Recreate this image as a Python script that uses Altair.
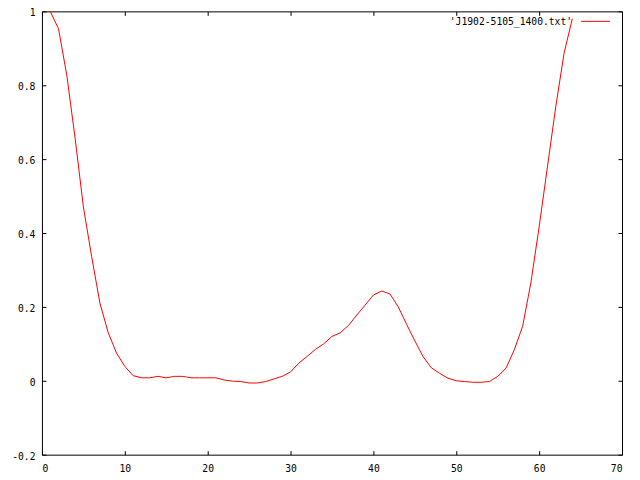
import altair as alt
import pandas as pd

series_name = "'J1902-5105_1400.txt'"
xs = list(range(1, 65))
ys = [1.0, 0.953, 0.827, 0.657, 0.471, 0.336, 0.21, 0.13, 0.075, 0.039,
      0.014, 0.008, 0.008, 0.012, 0.008, 0.012, 0.012, 0.008, 0.008, 0.008,
      0.008, 0.002, -0.001, -0.002, -0.006, -0.006, -0.002, 0.005, 0.012, 0.024,
      0.048, 0.066, 0.085, 0.1, 0.12, 0.13, 0.15, 0.178, 0.205, 0.232,
      0.243, 0.235, 0.2, 0.153, 0.108, 0.065, 0.035, 0.02, 0.007, 0.0,
      -0.002, -0.004, -0.004, -0.002, 0.012, 0.034, 0.084, 0.147, 0.265, 0.417,
      0.579, 0.741, 0.886, 0.98]
x_ticks = [0, 10, 20, 30, 40, 50, 60, 70]
y_ticks = [-0.2, 0, 0.2, 0.4, 0.6, 0.8, 1]

W, H = 581, 444
FONT = "DejaVu Sans Mono"
FS = 9.7

df = pd.DataFrame({"x": xs, "y": ys})
xscale = alt.Scale(domain=[0, 70], nice=False, zero=False)
yscale = alt.Scale(domain=[-0.2, 1], nice=False, zero=False)

def ax(orient, **kw):
    return alt.Axis(orient=orient, title=None, grid=False, **kw)

label_expr = "replace(datum.label, '\u2212', '-')"

main = alt.Chart(df).mark_line(color="#ff0000", strokeWidth=1).encode(
    x=alt.X("x:Q", scale=xscale,
            axis=ax("bottom", values=x_ticks, tickSize=0, labelPadding=9, domain=False,
                    labelFont=FONT, labelFontSize=FS, labelColor="black", format="d")),
    y=alt.Y("y:Q", scale=yscale,
            axis=ax("left", values=y_ticks, tickSize=0, labelPadding=7, domain=False,
                    labelFont=FONT, labelFontSize=FS, labelColor="black", format="~g",
                    labelOffset=1.5, labelExpr=label_expr)),
)

ticks_a = alt.Chart(df).mark_line(strokeOpacity=0).encode(
    x=alt.X("x:Q", scale=xscale,
            axis=ax("top", values=x_ticks, offset=-H, labels=False, domain=False,
                    tickSize=4, tickColor="black")),
    y=alt.Y("y:Q", scale=yscale,
            axis=ax("right", values=y_ticks, offset=-W, labels=False, domain=False,
                    tickSize=4, tickColor="black")),
)

ticks_b = alt.Chart(df).mark_line(strokeOpacity=0).encode(
    x=alt.X("x:Q", scale=xscale,
            axis=ax("bottom", values=x_ticks, offset=-H, labels=False, domain=False,
                    tickSize=4, tickColor="black")),
    y=alt.Y("y:Q", scale=yscale,
            axis=ax("left", values=y_ticks, offset=-W, labels=False, domain=False,
                    tickSize=4, tickColor="black")),
)

key_df = pd.DataFrame({"name": [series_name]})
key_text = alt.Chart(key_df).mark_text(
    align="right", baseline="middle", font=FONT, fontSize=FS, color="black"
).encode(text="name:N", x=alt.value(531), y=alt.value(10.5))
key_line = alt.Chart(key_df).mark_rule(color="#ff0000", strokeWidth=1).encode(
    x=alt.value(540), x2=alt.value(569), y=alt.value(10)
)

chart = alt.layer(main, ticks_a, ticks_b, key_text, key_line).resolve_axis(
    x="independent", y="independent"
).properties(
    width=W, height=H,
    autosize=alt.AutoSizeParams(type="none"),
    padding={"left": 34, "top": 3, "right": 10, "bottom": 25},
    background="white",
).configure_view(stroke="black", strokeWidth=1)

chart.save("out.html", embed_options={"renderer": "svg", "actions": False})
